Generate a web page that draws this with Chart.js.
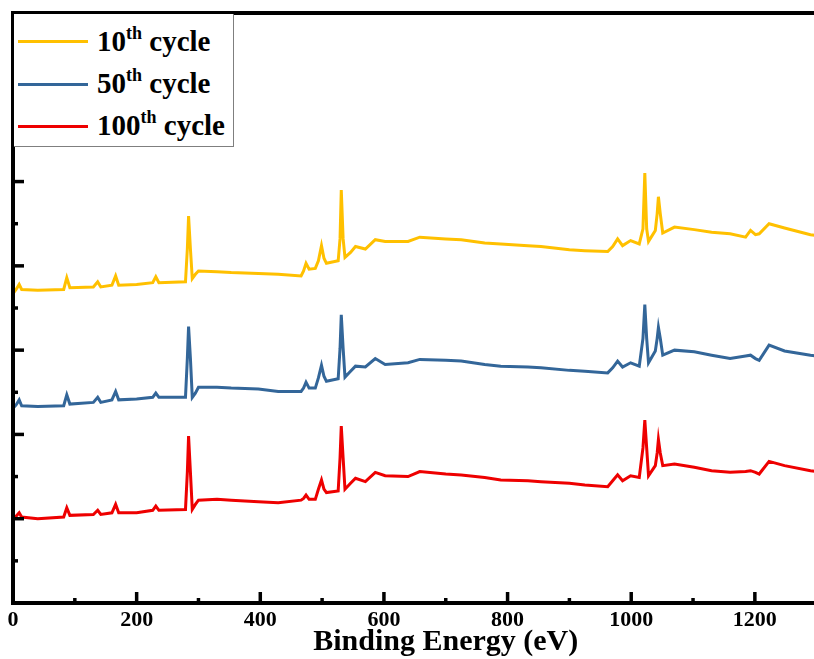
<!DOCTYPE html>
<html>
  <head>
    <title>XPS survey spectra</title>
    <style>
      html, body {
        margin: 0;
        padding: 0;
        overflow: hidden;
        background: #fff;
      }
      #wrap {
        position: relative;
        width: 907px;
        height: 659px;
      }
      #legend {
        position: absolute;
        left: 14px;
        top: 14px;
        width: 219px;
        height: 132px;
        background: #fff;
        border-right: 1px solid #7f7f7f;
        border-bottom: 1px solid #7f7f7f;
        font: bold 29px "Liberation Serif", "Times New Roman", serif;
        color: #000;
      }
      .swatch {
        position: absolute;
        left: 4px;
        width: 70px;
        height: 3px;
      }
      .label {
        position: absolute;
        left: 83px;
        line-height: 29px;
        white-space: nowrap;
      }
      .label sup {
        font-size: 18px;
        vertical-align: 12px;
        line-height: 0;
      }
    </style>
    <script src="https://cdn.jsdelivr.net/npm/chart.js"></script>
  </head>
  <body>
    <div id="wrap">
      <canvas id="xps-chart" width="907" height="659"></canvas>
      <div id="legend"></div>
    </div>

    <script>
      // binding energy (eV) of the sampled points, shared by all three spectra
      const energy = [
        0, 5, 10, 14, 40, 82, 87, 92, 130, 137,
        142, 160, 166, 171, 200, 226, 231, 236, 279, 282,
        284, 287, 290, 295, 300, 330, 353, 397, 429, 466,
        470, 474, 479, 489, 494, 499, 503, 507, 526, 529,
        531, 534, 537, 546, 554, 570, 586, 602, 639, 658,
        700, 725, 763, 789, 833, 854, 900, 925, 962, 970,
        978, 986, 999, 1013, 1019, 1022, 1025, 1028, 1039, 1042,
        1044, 1047, 1051, 1070, 1102, 1130, 1160, 1185, 1193, 1201,
        1207, 1223, 1248, 1290, 1300
      ];

      // intensity (a.u., stacked with offsets as in the figure)
      const cycle10 = [
        3.67, 3.72, 3.78, 3.72, 3.71, 3.72, 3.86, 3.74, 3.75, 3.81,
        3.75, 3.77, 3.88, 3.77, 3.78, 3.80, 3.87, 3.80, 3.81, 4.20,
        4.59, 4.20, 3.85, 3.90, 3.94, 3.93, 3.92, 3.91, 3.90, 3.88,
        3.94, 4.03, 3.96, 3.97, 4.06, 4.24, 4.09, 4.03, 4.06, 4.32,
        4.90, 4.32, 4.10, 4.16, 4.23, 4.20, 4.31, 4.29, 4.29, 4.34,
        4.32, 4.31, 4.27, 4.26, 4.24, 4.23, 4.19, 4.18, 4.17, 4.23,
        4.32, 4.24, 4.30, 4.26, 4.44, 5.10, 4.44, 4.29, 4.42, 4.62,
        4.82, 4.62, 4.39, 4.46, 4.43, 4.40, 4.38, 4.34, 4.42, 4.37,
        4.38, 4.50, 4.45, 4.37, 4.36
      ];

      const cycle50 = [
        2.31, 2.35, 2.41, 2.34, 2.33, 2.34, 2.47, 2.36, 2.38, 2.44,
        2.38, 2.41, 2.51, 2.41, 2.42, 2.44, 2.49, 2.44, 2.44, 2.90,
        3.28, 2.90, 2.44, 2.49, 2.56, 2.56, 2.55, 2.54, 2.51, 2.51,
        2.55, 2.62, 2.55, 2.55, 2.67, 2.82, 2.69, 2.63, 2.66, 3.02,
        3.42, 3.02, 2.68, 2.75, 2.81, 2.80, 2.90, 2.83, 2.85, 2.89,
        2.88, 2.87, 2.83, 2.81, 2.80, 2.79, 2.76, 2.75, 2.73, 2.79,
        2.87, 2.80, 2.85, 2.81, 3.14, 3.54, 3.14, 2.85, 2.99, 3.14,
        3.27, 3.14, 2.94, 3.00, 2.98, 2.94, 2.90, 2.93, 2.94, 2.90,
        2.88, 3.06, 2.99, 2.94, 2.93
      ];

      const cycle100 = [
        0.98, 1.03, 1.07, 1.02, 1.00, 1.02, 1.13, 1.04, 1.05, 1.10,
        1.05, 1.07, 1.17, 1.07, 1.07, 1.10, 1.15, 1.10, 1.11, 1.55,
        1.98, 1.55, 1.11, 1.17, 1.22, 1.23, 1.22, 1.20, 1.19, 1.22,
        1.24, 1.28, 1.23, 1.23, 1.35, 1.46, 1.35, 1.31, 1.33, 1.72,
        2.10, 1.72, 1.35, 1.42, 1.48, 1.44, 1.55, 1.51, 1.50, 1.56,
        1.53, 1.52, 1.49, 1.46, 1.45, 1.44, 1.42, 1.40, 1.38, 1.45,
        1.52, 1.45, 1.51, 1.49, 1.84, 2.17, 1.84, 1.51, 1.63, 1.78,
        1.94, 1.78, 1.63, 1.65, 1.61, 1.57, 1.55, 1.56, 1.57, 1.55,
        1.53, 1.68, 1.63, 1.57, 1.56
      ];

      const cycleNumbers = ["10", "50", "100"];
      const cycleColors = ["#FFC000", "#336699", "#EE0000"];
      const cycleSeries = [cycle10, cycle50, cycle100];

      const serif = "'Liberation Serif', 'Times New Roman', serif";

      // legend with real superscripts
      const legend = document.getElementById("legend");
      cycleNumbers.forEach((n, i) => {
        const sw = document.createElement("div");
        sw.className = "swatch";
        sw.style.top = 26 + i * 42.5 + "px";
        sw.style.background = cycleColors[i];
        const lb = document.createElement("div");
        lb.className = "label";
        lb.style.top = 13 + i * 42 + "px";
        lb.innerHTML = n + "<sup>th</sup> cycle";
        legend.append(sw, lb);
      });

      // frame plus inward major/minor ticks
      const frameTicks = {
        id: "frameTicks",
        afterDatasetsDraw(chart) {
          const { ctx, chartArea: a, scales } = chart;
          ctx.save();
          ctx.strokeStyle = "#000";
          ctx.lineWidth = 3.5;
          for (let v = 0; v <= 1400; v += 100) {
            const px = scales.x.getPixelForValue(v);
            const len = v % 200 === 0 ? 11 : 5;
            ctx.beginPath();
            ctx.moveTo(px, a.bottom);
            ctx.lineTo(px, a.bottom - len);
            ctx.stroke();
          }
          for (let v = 0; v <= 7; v += 0.5) {
            const py = scales.y.getPixelForValue(v);
            const len = Number.isInteger(v) ? 11 : 5;
            ctx.beginPath();
            ctx.moveTo(a.left, py);
            ctx.lineTo(a.left + len, py);
            ctx.stroke();
          }
          ctx.lineWidth = 4;
          ctx.strokeRect(a.left, a.top, a.right - a.left, a.bottom - a.top);
          ctx.restore();
        },
      };

      new Chart(document.getElementById("xps-chart"), {
        type: "line",
        data: {
          datasets: cycleSeries.map((s, i) => ({
            label: cycleNumbers[i] + "th cycle",
            data: energy.map((e, k) => ({ x: e, y: s[k] })),
            borderColor: cycleColors[i],
            borderWidth: 3,
            pointRadius: 0,
            tension: 0,
            fill: false,
          })),
        },
        options: {
          responsive: false,
          animation: false,
          layout: { padding: { left: 13, top: 13, right: 22, bottom: 0 } },
          plugins: { legend: { display: false }, tooltip: { enabled: false } },
          scales: {
            x: {
              type: "linear",
              min: 0,
              max: 1400,
              grid: { display: false, drawTicks: false },
              border: { display: false },
              ticks: {
                stepSize: 200,
                maxRotation: 0,
                padding: 6.5,
                color: "#000",
                callback: (v) => String(v),
                font: { family: serif, size: 22, weight: "bold", lineHeight: 1 },
              },
              title: {
                display: true,
                text: "Binding Energy (eV)",
                color: "#000",
                padding: { top: -11, bottom: 2 },
                font: { family: serif, size: 30, weight: "bold", lineHeight: 1 },
              },
            },
            y: {
              display: false,
              min: 0,
              max: 7,
            },
          },
        },
        plugins: [frameTicks],
      });
    </script>
  </body>
</html>
